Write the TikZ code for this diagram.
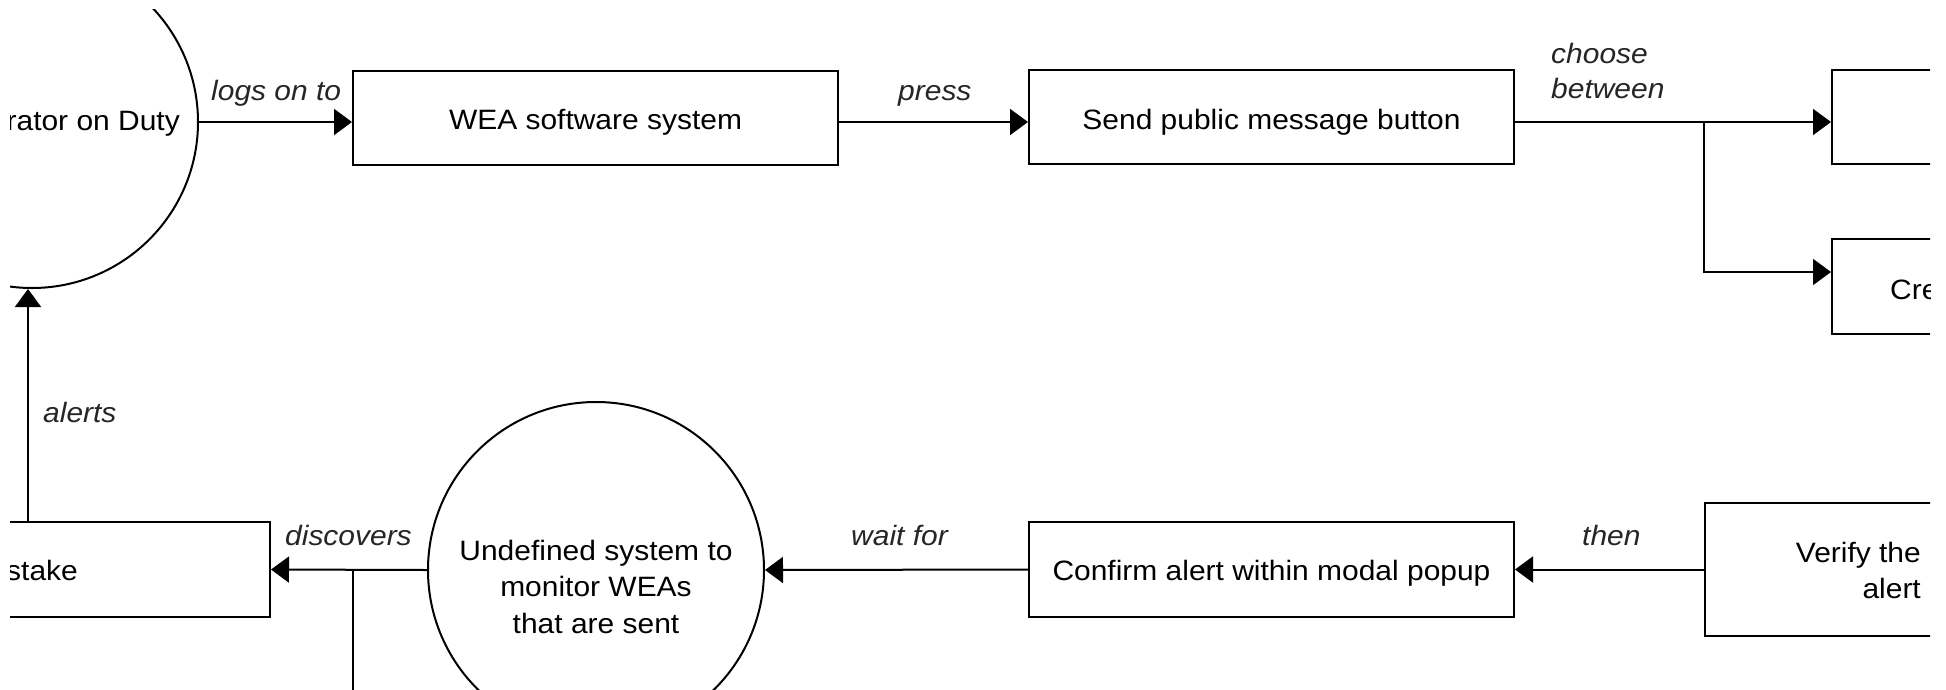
\documentclass[tikz,border=0pt]{standalone}
\usepackage{fontspec}
\setmainfont{Liberation Sans}[FakeStretch=1.07]
\usetikzlibrary{arrows.meta,calc}
\begin{document}
\begin{tikzpicture}[x=1pt,y=-1pt,
  box/.style={draw, line width=2pt, inner sep=0pt, minimum width=485pt, minimum height=94pt},
  bubble/.style={draw, circle, line width=2pt, inner sep=0pt},
  txt/.style={inner sep=0pt, font=\fontsize{28}{36.5}\selectfont},
  lbl/.style={inner sep=0pt, font=\fontsize{28}{35}\selectfont\itshape, text=black!85},
  arr/.style={line width=2pt, -{Triangle[length=18pt,width=26pt]}},
  ln/.style={line width=2pt}]
\fill[white] (0,0) rectangle (1946,689);
\useasboundingbox (0,0) rectangle (1946,689);
\begin{scope}
\clip (10,9) rectangle (1930,689);
% nodes
\node[bubble, minimum size=332pt] (op) at (32,122) {};
\node[txt, anchor=base east] (optxt) at (180,130) {rator on Duty};
\node[box] (wea) at (595.5,118) {};
\node[txt] (weatxt) at (595.5,122) {WEA software system};
\node[box] (send) at (1271.5,117) {};
\node[txt] (sendtxt) at (1271.5,122) {Send public message button};
\node[box] (r1) at (2074.5,117) {};
\node[box, minimum height=95pt] (r2) at (2074.5,286.5) {};
\node[txt, anchor=base west] (r2txt) at (1890,299) {Cre};
\node[box, minimum height=133pt] (ver) at (1947.5,569.5) {};
\node[txt, align=right, anchor=north east] (vertxt) at (1921,541.6) {Verify the\\alert};
\node[box, minimum height=95pt] (conf) at (1271.5,569.5) {};
\node[txt] (conftxt) at (1271.5,573) {Confirm alert within modal popup};
\node[bubble, minimum size=336pt] (und) at (596,570) {};
\node[txt, align=center, anchor=north] (undtxt) at (596,539.6) {Undefined system to\\monitor WEAs\\that are sent};
\node[box, minimum height=95pt] (mis) at (27.5,569.5) {};
\node[txt, anchor=base east] (mistxt) at (78,580) {stake};
% connectors
\coordinate (j) at (1704,122);
\coordinate (jb) at (1704,272);
\coordinate (dj) at (353,569.5);
\coordinate (dend) at (353,700);
\draw[arr] (op.east) -- (op.east -| wea.west);
\draw[arr] (wea.east |- op.east) -- (send.west |- op.east);
\draw[ln] (send.east |- op.east) -- (j);
\draw[arr] (j) -- (r1.west |- j);
\draw[arr] (j) -- (jb) -- (r2.west |- jb);
\draw[arr] (ver.west) -- (conf.east);
\draw[arr] (conf.west) -- (und.east);
\draw[arr] (und.west) -- (mis.east);
\draw[ln] (dj) -- (dend);
\draw[arr] (mis.north -| 28,0) -- (op.south -| 28,0);
% labels
\node[lbl, anchor=base west] (l1) at (211,100) {logs on to};
\node[lbl, anchor=base west] (l2) at (898,100) {press};
\node[lbl, anchor=north west, align=left] (l3) at (1551,42.6) {choose\\between};
\node[lbl, anchor=base west] (l4) at (1582,545) {then};
\node[lbl, anchor=base west] (l5) at (851,545) {wait for};
\node[lbl, anchor=base west] (l6) at (285,545) {discovers};
\node[lbl, anchor=base west] (l7) at (43,422) {alerts};
\end{scope}
\end{tikzpicture}
\end{document}
